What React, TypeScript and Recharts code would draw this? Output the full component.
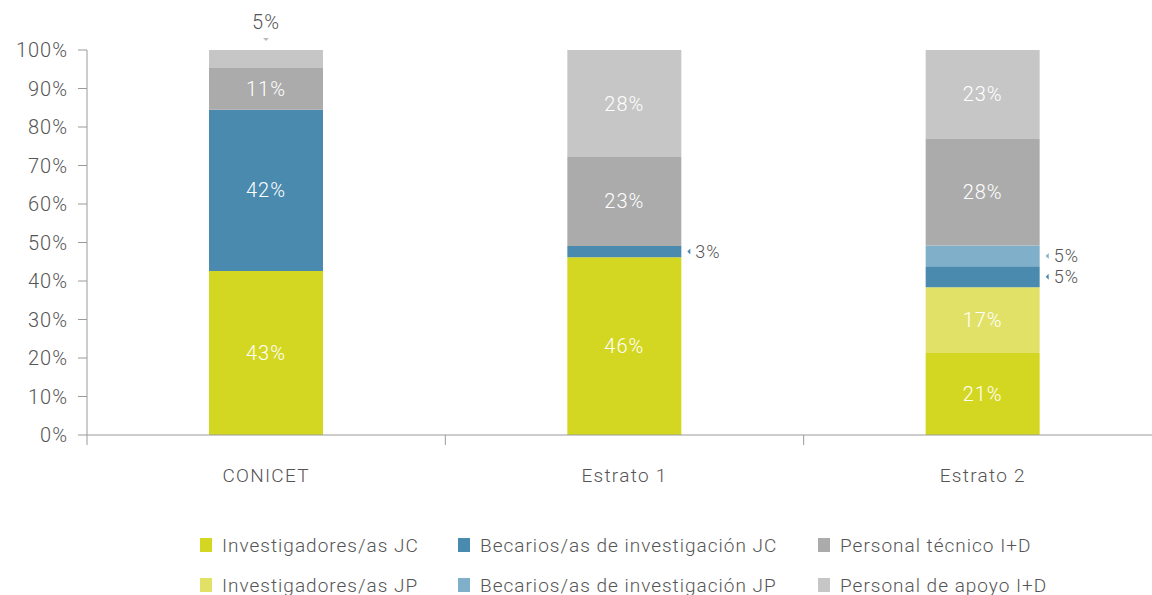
import React from "react";
import { BarChart, Bar, XAxis, YAxis, LabelList } from "recharts";

// ─── Data ─────────────────────────────────────────────────────────────────────

const categories = ["CONICET", "Estrato 1", "Estrato 2"];
const invJC = [42.6, 46.2, 21.3];
const invJP = [0, 0, 17.1];
const becJC = [41.9, 2.9, 5.4];
const becJP = [0, 0, 5.4];
const tecnico = [10.8, 23.1, 27.7];
const apoyo = [4.7, 27.8, 23.1];
const yTicks = [0, 10, 20, 30, 40, 50, 60, 70, 80, 90, 100];

const seriesNames = [
  "Investigadores/as JC",
  "Investigadores/as JP",
  "Becarios/as de investigación JC",
  "Becarios/as de investigación JP",
  "Personal técnico I+D",
  "Personal de apoyo I+D",
];

// ─── Colours / sizes ──────────────────────────────────────────────────────────

const COLORS = ["#D4D721", "#E1E168", "#4A8AAE", "#7FAFC9", "#ABABAB", "#C6C6C6"];
const TEXT = "#555555";
const AXIS = "#9a9a9a";
const FONT = "Roboto, sans-serif";

const W = 1162;
const H = 595;
const Y_W = 87;
const TOP = 50;
const PLOT_H = 385;
const BAND = (W - Y_W) / categories.length;

const data = categories.map((name, i) => ({
  name,
  invJC: invJC[i],
  invJP: invJP[i],
  becJC: becJC[i],
  becJP: becJP[i],
  tecnico: tecnico[i],
  apoyo: apoyo[i],
}));

// ─── Labels ───────────────────────────────────────────────────────────────────

const labelStyle = { fontFamily: FONT, fontWeight: 300, fontSize: 20, letterSpacing: 1 };
const sideStyle = { fontFamily: FONT, fontWeight: 300, fontSize: 18, letterSpacing: 1 };

function makeLabel(color: string, outside: "top" | "right") {
  // eslint-disable-next-line @typescript-eslint/no-explicit-any
  return (props: any) => {
    const { x = 0, y = 0, width = 0, height = 0, value } = props;
    const v = Array.isArray(value) ? value[1] - value[0] : Number(value);
    if (!v) return null;
    const txt = `${Math.round(v)}%`;
    if (v >= 8) {
      return (
        <text
          x={x + width / 2}
          y={y + height / 2}
          fill="#fff"
          textAnchor="middle"
          dominantBaseline="central"
          style={labelStyle}
        >
          {txt}
        </text>
      );
    }
    if (outside === "top") {
      const cx = x + width / 2;
      return (
        <g>
          <path d={`M${cx - 3},${y - 12} L${cx + 3},${y - 12} L${cx},${y - 9} Z`} fill="#bbb" />
          <text x={cx} y={y - 28} fill={TEXT} textAnchor="middle" dominantBaseline="central" style={labelStyle}>
            {txt}
          </text>
        </g>
      );
    }
    const cy = y + height / 2;
    const tx = x + width + 9;
    return (
      <g>
        <path d={`M${tx},${cy - 3} L${tx},${cy + 3} L${tx - 3},${cy} Z`} fill={color} />
        <text x={tx + 5} y={cy} fill={TEXT} textAnchor="start" dominantBaseline="central" style={sideStyle}>
          {txt}
        </text>
      </g>
    );
  };
}

// ─── X tick with boundary marks ───────────────────────────────────────────────

// eslint-disable-next-line @typescript-eslint/no-explicit-any
function XTick(props: any) {
  const { x, payload, index } = props;
  const axisY = TOP + PLOT_H;
  return (
    <g>
      <line x1={x - BAND / 2} x2={x - BAND / 2} y1={axisY} y2={axisY + 10} stroke={AXIS} />
      {index === categories.length - 1 ? (
        <line x1={x + BAND / 2} x2={x + BAND / 2} y1={axisY} y2={axisY + 10} stroke={AXIS} />
      ) : null}
      <text
        x={x}
        y={axisY + 40}
        fill={TEXT}
        textAnchor="middle"
        dominantBaseline="central"
        style={{ fontFamily: FONT, fontWeight: 300, fontSize: 19, letterSpacing: 1.3 }}
      >
        {payload.value}
      </text>
    </g>
  );
}

// ─── Legend ───────────────────────────────────────────────────────────────────

const legendOrder = [0, 2, 4, 1, 3, 5];
const legendCols = [200, 458, 818];
const legendRows = [545, 585];

function ChartLegend() {
  return (
    <>
      {legendOrder.map((s, i) => (
        <div
          key={s}
          style={{
            position: "absolute",
            left: legendCols[i % 3],
            top: legendRows[Math.floor(i / 3)] - 12,
            height: 24,
            display: "flex",
            alignItems: "center",
            fontFamily: FONT,
            fontWeight: 300,
            fontSize: 19,
            letterSpacing: 1,
            color: TEXT,
            whiteSpace: "nowrap",
          }}
        >
          <span
            style={{
              display: "inline-block",
              width: 12,
              height: 14,
              background: COLORS[s],
              marginRight: 10,
            }}
          />
          {seriesNames[s]}
        </div>
      ))}
    </>
  );
}

// ─── Component ────────────────────────────────────────────────────────────────

const keys = ["invJC", "invJP", "becJC", "becJP", "tecnico", "apoyo"];

export default function App() {
  return (
    <div
      style={{
        position: "absolute",
        left: 0,
        top: 0,
        width: 1152,
        height: H,
        overflow: "hidden",
        background: "#fff",
      }}
    >
      <BarChart
        width={W}
        height={H}
        data={data}
        margin={{ top: TOP, right: 0, bottom: 0, left: 0 }}
        barCategoryGap={0}
      >
        <XAxis
          dataKey="name"
          height={H - TOP - PLOT_H}
          axisLine={{ stroke: AXIS }}
          tickLine={false}
          tick={<XTick />}
          interval={0}
        />
        <YAxis
          width={Y_W}
          domain={[0, 100]}
          ticks={yTicks}
          tickFormatter={(v: number) => `${v}%`}
          axisLine={{ stroke: AXIS }}
          tickLine={{ stroke: AXIS }}
          tickSize={9}
          tickMargin={10}
          tick={{ fontSize: 20, fill: TEXT, fontFamily: FONT, fontWeight: 300, letterSpacing: 1 }}
        />
        {keys.map((k, i) => (
          <Bar key={k} dataKey={k} stackId="a" fill={COLORS[i]} barSize={114} isAnimationActive={false}>
            <LabelList dataKey={k} content={makeLabel(COLORS[i], k === "apoyo" ? "top" : "right")} />
          </Bar>
        ))}
      </BarChart>
      <ChartLegend />
    </div>
  );
}
